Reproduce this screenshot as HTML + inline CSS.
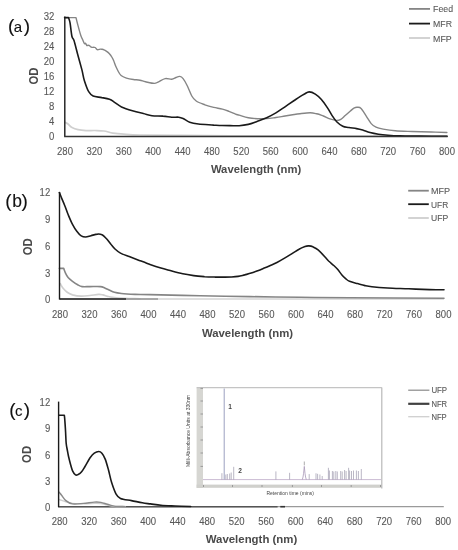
<!DOCTYPE html>
<html><head><meta charset="utf-8"><style>
html,body{margin:0;padding:0;background:#fff;}
body{width:458px;height:550px;overflow:hidden;}
svg{display:block;will-change:transform;filter:blur(0.3px);}
text{font-family:"Liberation Sans", sans-serif;}
.t{font-size:10px;fill:#585858;stroke:#585858;stroke-width:0.1px;}
.p{fill:#111;stroke:#111;stroke-width:0.1px;}
.od{font-size:12px;font-weight:bold;fill:#4a4a4a;}
.ax{font-size:11.8px;font-weight:bold;fill:#4a4a4a;}
.tiny{font-size:5px;fill:#444;}
.num{font-size:6.6px;font-weight:bold;fill:#444;}
</style></head><body>
<svg width="458" height="550" viewBox="0 0 458 550">
<rect width="458" height="550" fill="#fff"/>
<text class="p" y="31.8"><tspan x="7.9" style="font-size:19px">(</tspan><tspan x="13.7" style="font-size:15px">a</tspan><tspan x="23.8" style="font-size:19px">)</tspan></text>
<text transform="translate(37.5,76) rotate(-90)" text-anchor="middle" class="od" textLength="17" lengthAdjust="spacingAndGlyphs">OD</text>
<text x="54.3" y="19.8" text-anchor="end" class="t" textLength="10.6" lengthAdjust="spacingAndGlyphs">32</text>
<text x="54.3" y="34.6" text-anchor="end" class="t" textLength="10.6" lengthAdjust="spacingAndGlyphs">28</text>
<text x="54.3" y="49.6" text-anchor="end" class="t" textLength="10.6" lengthAdjust="spacingAndGlyphs">24</text>
<text x="54.3" y="64.5" text-anchor="end" class="t" textLength="10.6" lengthAdjust="spacingAndGlyphs">20</text>
<text x="54.3" y="80.0" text-anchor="end" class="t" textLength="10.6" lengthAdjust="spacingAndGlyphs">16</text>
<text x="54.3" y="95.0" text-anchor="end" class="t" textLength="10.6" lengthAdjust="spacingAndGlyphs">12</text>
<text x="54.3" y="110.0" text-anchor="end" class="t" textLength="5.3" lengthAdjust="spacingAndGlyphs">8</text>
<text x="54.3" y="125.2" text-anchor="end" class="t" textLength="5.3" lengthAdjust="spacingAndGlyphs">4</text>
<text x="54.3" y="140.2" text-anchor="end" class="t" textLength="5.3" lengthAdjust="spacingAndGlyphs">0</text>
<text x="65.0" y="154.7" text-anchor="middle" class="t" textLength="15.9" lengthAdjust="spacingAndGlyphs">280</text>
<text x="94.4" y="154.7" text-anchor="middle" class="t" textLength="15.9" lengthAdjust="spacingAndGlyphs">320</text>
<text x="123.8" y="154.7" text-anchor="middle" class="t" textLength="15.9" lengthAdjust="spacingAndGlyphs">360</text>
<text x="153.2" y="154.7" text-anchor="middle" class="t" textLength="15.9" lengthAdjust="spacingAndGlyphs">400</text>
<text x="182.6" y="154.7" text-anchor="middle" class="t" textLength="15.9" lengthAdjust="spacingAndGlyphs">440</text>
<text x="211.9" y="154.7" text-anchor="middle" class="t" textLength="15.9" lengthAdjust="spacingAndGlyphs">480</text>
<text x="241.3" y="154.7" text-anchor="middle" class="t" textLength="15.9" lengthAdjust="spacingAndGlyphs">520</text>
<text x="270.7" y="154.7" text-anchor="middle" class="t" textLength="15.9" lengthAdjust="spacingAndGlyphs">560</text>
<text x="300.1" y="154.7" text-anchor="middle" class="t" textLength="15.9" lengthAdjust="spacingAndGlyphs">600</text>
<text x="329.5" y="154.7" text-anchor="middle" class="t" textLength="15.9" lengthAdjust="spacingAndGlyphs">640</text>
<text x="358.9" y="154.7" text-anchor="middle" class="t" textLength="15.9" lengthAdjust="spacingAndGlyphs">680</text>
<text x="388.2" y="154.7" text-anchor="middle" class="t" textLength="15.9" lengthAdjust="spacingAndGlyphs">720</text>
<text x="417.6" y="154.7" text-anchor="middle" class="t" textLength="15.9" lengthAdjust="spacingAndGlyphs">760</text>
<text x="447.0" y="154.7" text-anchor="middle" class="t" textLength="15.9" lengthAdjust="spacingAndGlyphs">800</text>
<text x="256.1" y="172.9" text-anchor="middle" class="ax" textLength="90.4" lengthAdjust="spacingAndGlyphs">Wavelength (nm)</text>
<line x1="409" y1="8.9" x2="430" y2="8.9" stroke="#858585" stroke-width="1.8"/>
<text x="433.1" y="12.4" class="t" style="font-size:9.6px" textLength="19.9" lengthAdjust="spacingAndGlyphs">Feed</text>
<line x1="409" y1="23.6" x2="430" y2="23.6" stroke="#1a1a1a" stroke-width="1.8"/>
<text x="433.1" y="27.1" class="t" style="font-size:9.6px" textLength="18.9" lengthAdjust="spacingAndGlyphs">MFR</text>
<line x1="409" y1="38.0" x2="430" y2="38.0" stroke="#cfcfcf" stroke-width="1.8"/>
<text x="433.1" y="41.5" class="t" style="font-size:9.6px" textLength="18.6" lengthAdjust="spacingAndGlyphs">MFP</text>
<path d="M65.0,122.3C65.5,122.6 66.8,123.1 68.0,124.0C69.2,124.9 70.3,126.6 72.0,127.5C73.7,128.4 75.7,129.1 78.0,129.6C80.3,130.1 83.2,130.4 86.0,130.6C88.8,130.8 92.0,130.4 95.0,130.5C98.0,130.6 101.0,130.6 104.0,131.0C107.0,131.4 109.5,132.6 112.8,133.1C116.1,133.6 119.2,133.9 123.7,134.2C128.2,134.5 130.6,134.8 140.0,135.0C149.4,135.2 165.0,135.3 180.0,135.4C195.0,135.5 210.0,135.7 230.0,135.8C250.0,135.9 263.8,135.9 300.0,136.0C336.2,136.1 422.5,136.2 447.0,136.2" fill="none" stroke="#cfcfcf" stroke-width="1.7" stroke-linejoin="round" stroke-linecap="round"/>
<path d="M65.2,17.6 L76.0,17.6C76.3,18.9 77.2,22.6 78.0,25.6C78.8,28.6 80.1,33.5 80.9,35.8C81.7,38.1 82.1,38.4 82.6,39.5C83.1,40.6 83.6,41.9 83.9,42.6C84.2,43.3 84.4,43.8 84.7,43.9C85.0,44.0 85.2,43.1 85.6,43.4C86.0,43.7 86.5,45.3 86.9,45.6C87.3,45.9 87.8,45.2 88.2,45.2C88.6,45.2 89.1,45.3 89.5,45.6C89.9,45.9 90.3,46.6 90.8,46.9C91.2,47.2 91.8,47.3 92.2,47.4C92.7,47.5 93.0,47.2 93.5,47.2C94.0,47.2 94.7,47.2 95.2,47.5C95.7,47.8 96.1,48.7 96.5,49.1C96.9,49.5 97.1,49.8 97.8,49.8C98.5,49.8 99.8,49.2 100.5,49.1C101.2,49.0 101.6,49.2 102.2,49.3C102.8,49.4 103.3,49.5 104.0,49.8C104.7,50.1 105.7,50.7 106.6,51.3C107.5,51.9 108.3,52.5 109.2,53.5C110.1,54.5 111.1,55.8 111.8,57.0C112.5,58.2 112.9,58.9 113.6,60.5C114.3,62.1 115.2,65.0 116.0,66.8C116.8,68.6 117.5,70.0 118.3,71.5C119.1,73.0 119.8,74.4 121.1,75.5C122.4,76.6 124.4,77.4 126.4,78.1C128.5,78.8 131.1,79.2 133.4,79.5C135.7,79.8 138.0,79.8 140.0,80.2C142.0,80.6 143.1,81.3 145.5,81.8C147.9,82.3 152.0,83.4 154.2,83.4C156.4,83.4 156.8,82.6 158.6,81.8C160.4,81.0 163.0,79.0 165.2,78.6C167.4,78.2 169.9,79.4 171.7,79.2C173.5,79.0 174.7,78.0 176.0,77.5C177.3,77.0 178.6,76.2 179.8,76.4C181.0,76.6 181.8,77.0 183.1,78.6C184.4,80.2 186.1,83.3 187.5,86.2C188.9,89.1 190.4,93.5 191.8,96.0C193.2,98.5 194.0,99.5 196.2,101.0C198.4,102.5 202.0,103.7 204.9,104.8C207.8,105.9 210.8,106.7 213.7,107.4C216.6,108.1 219.8,108.4 222.4,109.1C225.0,109.8 226.8,110.5 229.0,111.3C231.2,112.1 233.8,113.4 235.5,114.1C237.2,114.8 237.1,114.6 239.2,115.2C241.3,115.8 245.2,117.2 248.3,117.8C251.4,118.4 254.4,118.6 257.5,118.7C260.6,118.8 263.6,118.8 266.7,118.6C269.8,118.4 272.8,117.9 275.9,117.5C278.9,117.1 281.9,116.5 285.0,116.0C288.1,115.5 291.7,114.9 294.2,114.5C296.7,114.1 297.3,114.0 300.0,113.7C302.7,113.4 307.4,112.8 310.2,112.8C313.0,112.8 314.6,113.3 316.8,113.8C319.0,114.3 321.1,115.2 323.3,116.0C325.5,116.8 327.7,118.2 329.9,118.9C332.1,119.6 334.6,120.3 336.4,120.4C338.2,120.5 339.3,120.1 340.8,119.3C342.3,118.5 343.6,116.9 345.2,115.5C346.8,114.1 348.9,112.3 350.4,111.0C351.9,109.7 353.2,108.4 354.4,107.8C355.6,107.2 356.4,107.2 357.5,107.3C358.6,107.4 359.6,107.0 361.1,108.5C362.6,110.0 364.7,113.9 366.4,116.4C368.1,118.9 369.6,121.8 371.2,123.6C372.8,125.4 374.0,126.3 376.0,127.2C378.0,128.1 380.0,128.5 383.2,129.1C386.4,129.7 390.4,130.4 395.2,130.8C400.0,131.2 406.0,131.3 412.0,131.5C418.0,131.7 425.5,131.8 431.3,132.0C437.1,132.2 444.3,132.4 446.9,132.5" fill="none" stroke="#858585" stroke-width="1.4" stroke-linejoin="round" stroke-linecap="round"/>
<path d="M64.6,17.6 L68.5,17.6C68.8,18.5 69.4,19.6 70.0,22.7C70.6,25.8 71.2,33.2 71.9,36.2C72.6,39.2 73.1,37.7 74.0,40.6C74.9,43.5 76.2,48.9 77.5,53.7C78.8,58.5 80.6,64.9 81.8,69.4C83.0,73.9 83.2,77.0 84.4,80.7C85.6,84.4 87.2,89.2 88.7,91.7C90.2,94.2 90.9,95.0 93.1,96.0C95.3,97.0 99.1,97.0 101.8,97.6C104.5,98.1 107.3,98.5 109.5,99.3C111.7,100.1 112.9,101.3 114.9,102.6C116.9,103.9 118.6,105.6 121.5,106.9C124.4,108.2 128.8,109.6 132.4,110.7C136.0,111.8 140.0,112.7 143.3,113.5C146.6,114.3 148.7,115.3 152.0,115.7C155.3,116.1 159.7,115.8 163.0,116.1C166.3,116.3 169.1,117.0 171.7,117.2C174.3,117.4 176.8,117.0 178.7,117.2C180.6,117.4 181.3,117.7 183.1,118.5C184.9,119.3 187.1,121.3 189.7,122.2C192.2,123.1 194.4,123.5 198.4,124.0C202.4,124.5 209.8,124.8 213.7,125.1C217.6,125.3 219.3,125.4 222.0,125.5C224.7,125.6 227.1,125.6 230.0,125.6C232.9,125.6 236.1,125.9 239.2,125.7C242.2,125.5 245.2,125.1 248.3,124.4C251.4,123.7 254.4,122.4 257.5,121.3C260.6,120.2 263.6,119.2 266.7,117.8C269.8,116.4 272.8,114.7 275.9,112.9C278.9,111.1 281.9,108.9 285.0,106.8C288.1,104.7 291.7,102.2 294.2,100.5C296.7,98.8 298.3,97.7 300.0,96.6C301.7,95.5 303.0,94.8 304.5,94.0C306.0,93.2 307.4,91.9 309.2,91.9C311.0,91.9 313.3,92.9 315.3,94.2C317.3,95.5 319.4,97.2 321.4,99.5C323.4,101.8 325.7,105.2 327.5,107.9C329.3,110.6 330.6,113.3 332.1,115.6C333.6,117.9 334.9,119.9 336.7,121.7C338.5,123.5 340.8,125.3 342.8,126.3C344.8,127.3 346.6,127.1 348.9,127.5C351.2,127.9 354.2,128.2 356.5,128.6C358.8,129.0 360.4,129.4 362.7,130.1C364.9,130.8 367.4,131.9 370.0,132.6C372.6,133.3 375.4,133.8 378.4,134.2C381.4,134.6 384.4,134.9 388.0,135.2C391.6,135.5 394.7,135.7 400.0,135.8C405.3,136.0 412.2,136.0 420.0,136.1C427.8,136.2 442.5,136.2 447.0,136.2" fill="none" stroke="#1a1a1a" stroke-width="1.6" stroke-linejoin="round" stroke-linecap="round"/>
<line x1="64.8" y1="16.6" x2="64.8" y2="136.4" stroke="#1a1a1a" stroke-width="1.4"/>
<line x1="64.1" y1="136.4" x2="447.6" y2="136.4" stroke="#333" stroke-width="1.5"/>
<text class="p" y="206.8"><tspan x="5.3" style="font-size:19px">(</tspan><tspan x="12.3" style="font-size:17.5px">b</tspan><tspan x="21.6" style="font-size:19px">)</tspan></text>
<text transform="translate(31.9,246.8) rotate(-90)" text-anchor="middle" class="od" textLength="17" lengthAdjust="spacingAndGlyphs">OD</text>
<text x="50.2" y="196.2" text-anchor="end" class="t" textLength="10.6" lengthAdjust="spacingAndGlyphs">12</text>
<text x="50.2" y="223.3" text-anchor="end" class="t" textLength="5.3" lengthAdjust="spacingAndGlyphs">9</text>
<text x="50.2" y="249.9" text-anchor="end" class="t" textLength="5.3" lengthAdjust="spacingAndGlyphs">6</text>
<text x="50.2" y="276.6" text-anchor="end" class="t" textLength="5.3" lengthAdjust="spacingAndGlyphs">3</text>
<text x="50.2" y="303.1" text-anchor="end" class="t" textLength="5.3" lengthAdjust="spacingAndGlyphs">0</text>
<text x="60.0" y="317.6" text-anchor="middle" class="t" textLength="15.9" lengthAdjust="spacingAndGlyphs">280</text>
<text x="89.5" y="317.6" text-anchor="middle" class="t" textLength="15.9" lengthAdjust="spacingAndGlyphs">320</text>
<text x="119.0" y="317.6" text-anchor="middle" class="t" textLength="15.9" lengthAdjust="spacingAndGlyphs">360</text>
<text x="148.5" y="317.6" text-anchor="middle" class="t" textLength="15.9" lengthAdjust="spacingAndGlyphs">400</text>
<text x="178.0" y="317.6" text-anchor="middle" class="t" textLength="15.9" lengthAdjust="spacingAndGlyphs">440</text>
<text x="207.5" y="317.6" text-anchor="middle" class="t" textLength="15.9" lengthAdjust="spacingAndGlyphs">480</text>
<text x="237.0" y="317.6" text-anchor="middle" class="t" textLength="15.9" lengthAdjust="spacingAndGlyphs">520</text>
<text x="266.5" y="317.6" text-anchor="middle" class="t" textLength="15.9" lengthAdjust="spacingAndGlyphs">560</text>
<text x="296.0" y="317.6" text-anchor="middle" class="t" textLength="15.9" lengthAdjust="spacingAndGlyphs">600</text>
<text x="325.5" y="317.6" text-anchor="middle" class="t" textLength="15.9" lengthAdjust="spacingAndGlyphs">640</text>
<text x="355.0" y="317.6" text-anchor="middle" class="t" textLength="15.9" lengthAdjust="spacingAndGlyphs">680</text>
<text x="384.5" y="317.6" text-anchor="middle" class="t" textLength="15.9" lengthAdjust="spacingAndGlyphs">720</text>
<text x="414.0" y="317.6" text-anchor="middle" class="t" textLength="15.9" lengthAdjust="spacingAndGlyphs">760</text>
<text x="443.5" y="317.6" text-anchor="middle" class="t" textLength="15.9" lengthAdjust="spacingAndGlyphs">800</text>
<text x="247.5" y="336.5" text-anchor="middle" class="ax" textLength="91.1" lengthAdjust="spacingAndGlyphs">Wavelength (nm)</text>
<line x1="408.2" y1="190.7" x2="428.8" y2="190.7" stroke="#858585" stroke-width="1.8"/>
<text x="431" y="194.1" class="t" style="font-size:9.4px" textLength="19.1" lengthAdjust="spacingAndGlyphs">MFP</text>
<line x1="408.2" y1="204.2" x2="428.8" y2="204.2" stroke="#1a1a1a" stroke-width="1.8"/>
<text x="431" y="207.6" class="t" style="font-size:9.4px" textLength="17.2" lengthAdjust="spacingAndGlyphs">UFR</text>
<line x1="408.2" y1="218.0" x2="428.8" y2="218.0" stroke="#cfcfcf" stroke-width="1.8"/>
<text x="431" y="221.4" class="t" style="font-size:9.4px" textLength="17.2" lengthAdjust="spacingAndGlyphs">UFP</text>
<line x1="59.5" y1="299" x2="444" y2="299" stroke="#d4d4d4" stroke-width="1.5"/>
<path d="M60.2,283.6C60.7,284.3 61.7,286.6 62.9,288.0C64.1,289.4 65.6,291.2 67.2,292.3C68.8,293.4 70.2,294.2 72.5,294.9C74.8,295.5 78.3,296.1 81.2,296.2C84.1,296.3 87.0,295.8 89.9,295.5C92.8,295.2 96.5,294.5 98.7,294.4C100.9,294.3 101.5,294.6 103.0,294.9C104.5,295.2 105.5,295.9 107.4,296.3C109.3,296.8 111.5,297.2 114.4,297.6C117.3,298.0 120.6,298.2 124.9,298.4C129.2,298.6 137.5,298.7 140.0,298.8" fill="none" stroke="#cfcfcf" stroke-width="1.7" stroke-linejoin="round" stroke-linecap="round"/>
<path d="M59.4,268.4 L63.7,268.4C64.0,269.2 64.8,271.6 65.5,273.1C66.2,274.6 66.9,276.1 68.1,277.5C69.3,278.9 70.9,280.1 72.5,281.3C74.1,282.5 76.1,283.9 77.7,284.8C79.3,285.7 80.1,286.3 82.1,286.6C84.1,286.9 86.9,286.6 89.9,286.6C93.0,286.6 97.9,286.4 100.4,286.6C102.9,286.8 103.3,287.4 104.8,288.0C106.2,288.6 107.5,289.3 109.1,290.0C110.7,290.7 112.4,291.7 114.4,292.3C116.5,292.9 118.0,293.1 121.4,293.5C124.8,293.9 130.2,294.2 135.0,294.4C139.8,294.6 139.2,294.4 150.0,294.6C160.8,294.8 183.3,295.5 200.0,295.8C216.7,296.1 233.3,296.4 250.0,296.6C266.7,296.9 283.3,297.1 300.0,297.3C316.7,297.5 326.0,297.7 350.0,297.8C374.0,297.9 428.3,298.1 444.0,298.2" fill="none" stroke="#858585" stroke-width="1.6" stroke-linejoin="round" stroke-linecap="round"/>
<path d="M59.4,192.6C59.8,193.5 60.7,195.9 61.6,198.1C62.5,200.3 63.7,203.0 64.8,205.7C65.9,208.4 66.8,211.4 68.1,214.5C69.4,217.6 71.0,221.5 72.5,224.3C74.0,227.1 75.3,229.4 76.8,231.3C78.2,233.2 79.7,235.0 81.2,235.9C82.7,236.8 84.0,237.0 85.6,237.0C87.2,237.0 89.0,236.2 91.0,235.7C93.0,235.2 95.8,234.2 97.6,234.1C99.4,233.9 100.5,234.1 102.0,234.8C103.5,235.5 104.8,237.0 106.3,238.5C107.8,240.0 109.2,242.2 110.7,244.0C112.2,245.8 113.4,247.5 115.0,249.0C116.6,250.5 118.1,251.8 120.5,253.1C122.9,254.4 126.3,255.5 129.2,256.6C132.1,257.7 135.1,258.8 138.0,259.9C140.9,261.0 144.7,262.4 146.7,263.2C148.7,264.0 147.6,263.7 150.0,264.5C152.4,265.3 157.3,266.9 160.9,268.0C164.5,269.1 168.2,270.0 171.8,271.0C175.5,272.0 179.2,273.0 182.8,273.8C186.5,274.6 190.1,275.1 193.7,275.6C197.3,276.1 201.0,276.4 204.6,276.7C208.2,276.9 212.1,277.0 215.5,277.1C218.9,277.2 222.3,277.1 225.0,277.1C227.7,277.1 229.4,277.1 231.6,277.0C233.8,276.9 235.9,276.8 238.1,276.4C240.3,276.0 242.5,275.4 244.7,274.9C246.9,274.3 249.0,273.8 251.2,273.1C253.4,272.4 255.6,271.5 257.8,270.7C260.0,269.9 262.1,269.0 264.3,268.1C266.5,267.2 268.7,266.2 270.9,265.2C273.1,264.2 275.0,263.4 277.4,262.2C279.8,261.0 282.5,259.4 285.0,257.9C287.5,256.4 290.1,254.8 292.4,253.4C294.7,252.0 296.9,250.3 299.0,249.2C301.1,248.0 303.4,247.1 305.0,246.5C306.6,245.9 307.6,245.8 308.9,245.9C310.2,246.0 311.4,246.2 312.9,246.8C314.4,247.5 316.4,248.4 318.1,249.8C319.8,251.2 321.6,253.2 323.3,255.1C325.1,257.0 326.9,259.3 328.6,261.0C330.4,262.7 332.3,264.1 333.8,265.5C335.3,266.9 336.5,268.0 337.8,269.5C339.1,271.0 340.4,273.2 341.7,274.7C343.0,276.2 344.3,277.5 345.6,278.6C346.9,279.7 347.5,280.5 349.5,281.3C351.5,282.1 354.8,282.9 357.4,283.6C360.0,284.3 362.6,285.1 365.0,285.6C367.4,286.1 368.1,286.3 371.9,286.7C375.7,287.1 381.5,287.6 387.6,288.0C393.7,288.4 401.6,288.5 408.6,288.8C415.6,289.1 423.7,289.4 429.6,289.6C435.5,289.8 441.6,289.8 444.0,289.8" fill="none" stroke="#1a1a1a" stroke-width="1.6" stroke-linejoin="round" stroke-linecap="round"/>
<line x1="59.5" y1="299" x2="126" y2="299" stroke="#1a1a1a" stroke-width="1.3"/>
<line x1="126" y1="299" x2="158" y2="299" stroke="#8a8a8a" stroke-width="1.3"/>
<line x1="59.5" y1="192" x2="59.5" y2="299.5" stroke="#1a1a1a" stroke-width="1.4"/>
<text class="p" y="416.2"><tspan x="9.2" style="font-size:19px">(</tspan><tspan x="15.0" style="font-size:15px">c</tspan><tspan x="23.8" style="font-size:19px">)</tspan></text>
<text transform="translate(31.4,454.4) rotate(-90)" text-anchor="middle" class="od" textLength="17" lengthAdjust="spacingAndGlyphs">OD</text>
<text x="50.2" y="406.1" text-anchor="end" class="t" textLength="10.6" lengthAdjust="spacingAndGlyphs">12</text>
<text x="50.2" y="432.4" text-anchor="end" class="t" textLength="5.3" lengthAdjust="spacingAndGlyphs">9</text>
<text x="50.2" y="458.6" text-anchor="end" class="t" textLength="5.3" lengthAdjust="spacingAndGlyphs">6</text>
<text x="50.2" y="484.8" text-anchor="end" class="t" textLength="5.3" lengthAdjust="spacingAndGlyphs">3</text>
<text x="50.2" y="510.8" text-anchor="end" class="t" textLength="5.3" lengthAdjust="spacingAndGlyphs">0</text>
<text x="59.6" y="524.9" text-anchor="middle" class="t" textLength="15.9" lengthAdjust="spacingAndGlyphs">280</text>
<text x="89.1" y="524.9" text-anchor="middle" class="t" textLength="15.9" lengthAdjust="spacingAndGlyphs">320</text>
<text x="118.6" y="524.9" text-anchor="middle" class="t" textLength="15.9" lengthAdjust="spacingAndGlyphs">360</text>
<text x="148.1" y="524.9" text-anchor="middle" class="t" textLength="15.9" lengthAdjust="spacingAndGlyphs">400</text>
<text x="177.6" y="524.9" text-anchor="middle" class="t" textLength="15.9" lengthAdjust="spacingAndGlyphs">440</text>
<text x="207.1" y="524.9" text-anchor="middle" class="t" textLength="15.9" lengthAdjust="spacingAndGlyphs">480</text>
<text x="236.6" y="524.9" text-anchor="middle" class="t" textLength="15.9" lengthAdjust="spacingAndGlyphs">520</text>
<text x="266.1" y="524.9" text-anchor="middle" class="t" textLength="15.9" lengthAdjust="spacingAndGlyphs">560</text>
<text x="295.6" y="524.9" text-anchor="middle" class="t" textLength="15.9" lengthAdjust="spacingAndGlyphs">600</text>
<text x="325.1" y="524.9" text-anchor="middle" class="t" textLength="15.9" lengthAdjust="spacingAndGlyphs">640</text>
<text x="354.6" y="524.9" text-anchor="middle" class="t" textLength="15.9" lengthAdjust="spacingAndGlyphs">680</text>
<text x="384.1" y="524.9" text-anchor="middle" class="t" textLength="15.9" lengthAdjust="spacingAndGlyphs">720</text>
<text x="413.6" y="524.9" text-anchor="middle" class="t" textLength="15.9" lengthAdjust="spacingAndGlyphs">760</text>
<text x="443.1" y="524.9" text-anchor="middle" class="t" textLength="15.9" lengthAdjust="spacingAndGlyphs">800</text>
<text x="251.5" y="543.3" text-anchor="middle" class="ax" textLength="91.6" lengthAdjust="spacingAndGlyphs">Wavelength (nm)</text>
<line x1="408.2" y1="390.2" x2="429.4" y2="390.2" stroke="#8a8a8a" stroke-width="1.2"/>
<text x="431.4" y="393.2" class="t" style="font-size:8.4px" textLength="15.7" lengthAdjust="spacingAndGlyphs">UFP</text>
<line x1="408.2" y1="403.8" x2="429.4" y2="403.8" stroke="#404040" stroke-width="2.2"/>
<text x="431.4" y="406.8" class="t" style="font-size:8.4px" textLength="15.7" lengthAdjust="spacingAndGlyphs">NFR</text>
<line x1="408.2" y1="416.7" x2="429.4" y2="416.7" stroke="#cfcfcf" stroke-width="1.3"/>
<text x="431.4" y="419.7" class="t" style="font-size:8.4px" textLength="15.3" lengthAdjust="spacingAndGlyphs">NFP</text>
<line x1="58.6" y1="506.7" x2="443.8" y2="506.7" stroke="#9a9a9a" stroke-width="1.3"/>
<line x1="58.6" y1="506.7" x2="277.6" y2="506.7" stroke="#555" stroke-width="1.4"/>
<line x1="280.3" y1="506.7" x2="285" y2="506.7" stroke="#333" stroke-width="1.6"/>
<path d="M58.9,499.5C60.1,499.9 63.6,501.0 65.9,501.7C68.2,502.4 69.6,503.1 72.5,503.5C75.4,503.9 79.8,503.8 83.4,503.8C87.0,503.8 91.4,503.4 94.3,503.3C97.2,503.2 98.7,503.2 100.9,503.5C103.1,503.8 105.2,504.6 107.4,505.0C109.6,505.4 111.1,505.9 114.0,506.2C116.9,506.5 123.2,506.5 125.0,506.6" fill="none" stroke="#cfcfcf" stroke-width="1.5" stroke-linejoin="round" stroke-linecap="round"/>
<path d="M58.9,491.9C59.4,492.4 60.4,493.8 61.6,495.2C62.8,496.6 64.1,499.2 65.9,500.6C67.7,502.1 69.6,503.4 72.5,503.9C75.4,504.4 79.8,503.7 83.4,503.4C87.0,503.1 91.4,502.3 94.3,502.1C97.2,501.9 98.7,502.0 100.9,502.4C103.1,502.8 105.2,503.7 107.4,504.3C109.6,504.9 111.1,505.7 114.0,506.1C116.9,506.5 123.2,506.5 125.0,506.6" fill="none" stroke="#8a8a8a" stroke-width="1.4" stroke-linejoin="round" stroke-linecap="round"/>
<path d="M58.9,415.2 L64.3,415.2C64.4,416.0 64.6,417.1 64.8,420.0C65.0,422.9 65.4,428.4 65.6,432.3C65.8,436.2 65.9,440.6 66.2,443.5C66.5,446.4 66.9,447.8 67.3,450.0C67.7,452.2 68.0,454.3 68.6,456.8C69.2,459.3 70.0,462.6 70.7,465.0C71.4,467.4 71.9,469.5 72.7,471.1C73.5,472.8 74.6,474.3 75.5,474.9C76.4,475.5 77.2,475.0 78.2,474.5C79.2,474.0 80.5,473.1 81.6,471.8C82.7,470.5 83.6,468.8 85.0,466.5C86.4,464.2 88.4,460.2 89.9,458.0C91.5,455.8 92.8,454.3 94.3,453.2C95.8,452.1 97.4,451.5 98.7,451.5C100.0,451.5 100.8,451.9 101.9,453.2C103.0,454.5 104.1,456.3 105.2,459.1C106.3,461.9 107.4,466.0 108.5,470.0C109.6,474.0 110.5,479.1 111.8,483.1C113.1,487.1 114.6,491.6 116.1,494.1C117.5,496.7 118.0,497.3 120.5,498.4C123.0,499.5 127.8,499.9 131.4,500.6C135.0,501.3 139.1,502.2 142.3,502.8C145.5,503.4 147.4,503.5 150.5,503.9C153.6,504.3 156.9,504.9 161.0,505.3C165.1,505.7 170.1,505.8 175.0,506.0C179.9,506.2 188.1,506.4 190.7,506.5" fill="none" stroke="#1a1a1a" stroke-width="1.6" stroke-linejoin="round" stroke-linecap="round"/>
<line x1="58.6" y1="401.6" x2="58.6" y2="507.3" stroke="#1a1a1a" stroke-width="1.4"/>
<rect x="196.6" y="387.6" width="6.4" height="100.4" fill="#d6d6d2"/>
<rect x="196.6" y="484.6" width="185.2" height="3.2" fill="#d0d0cc"/>
<line x1="196.6" y1="387.6" x2="381.8" y2="387.6" stroke="#c4c4c4" stroke-width="1.2"/>
<line x1="381.8" y1="387.6" x2="381.8" y2="488.6" stroke="#b8b8b8" stroke-width="1.2"/>
<line x1="200.5" y1="388.4" x2="203" y2="388.4" stroke="#8a8a8a" stroke-width="0.8"/>
<line x1="200.5" y1="401" x2="203" y2="401" stroke="#8a8a8a" stroke-width="0.8"/>
<line x1="200.5" y1="414" x2="203" y2="414" stroke="#8a8a8a" stroke-width="0.8"/>
<line x1="200.5" y1="427" x2="203" y2="427" stroke="#8a8a8a" stroke-width="0.8"/>
<line x1="200.5" y1="440" x2="203" y2="440" stroke="#8a8a8a" stroke-width="0.8"/>
<line x1="200.5" y1="453" x2="203" y2="453" stroke="#8a8a8a" stroke-width="0.8"/>
<line x1="200.5" y1="466.4" x2="203" y2="466.4" stroke="#8a8a8a" stroke-width="0.8"/>
<line x1="203.5" y1="485" x2="203.5" y2="487" stroke="#8a8a8a" stroke-width="0.8"/>
<line x1="232.5" y1="485" x2="232.5" y2="487" stroke="#8a8a8a" stroke-width="0.8"/>
<line x1="262" y1="485" x2="262" y2="487" stroke="#8a8a8a" stroke-width="0.8"/>
<line x1="292.4" y1="485" x2="292.4" y2="487" stroke="#8a8a8a" stroke-width="0.8"/>
<line x1="321.5" y1="485" x2="321.5" y2="487" stroke="#8a8a8a" stroke-width="0.8"/>
<line x1="351.2" y1="485" x2="351.2" y2="487" stroke="#8a8a8a" stroke-width="0.8"/>
<line x1="380.5" y1="485" x2="380.5" y2="487" stroke="#8a8a8a" stroke-width="0.8"/>
<text transform="translate(189.5,431) rotate(-90)" text-anchor="middle" class="tiny">Milli-Absorbance Units  at 330nm</text>
<text x="266.5" y="494.9" class="tiny" style="font-size:5.4px" textLength="47.3" lengthAdjust="spacingAndGlyphs">Retention time (mins)</text>
<line x1="203" y1="479.6" x2="381" y2="479.6" stroke="#bba8c6" stroke-width="0.8"/>
<line x1="224.2" y1="388.5" x2="224.2" y2="479.6" stroke="#9ca0c0" stroke-width="1.0"/>
<line x1="221.9" y1="473.2" x2="221.9" y2="479.6" stroke="#9c98ac" stroke-width="0.7"/>
<line x1="225.8" y1="474.5" x2="225.8" y2="479.6" stroke="#9c98ac" stroke-width="0.7"/>
<line x1="227.3" y1="474.0" x2="227.3" y2="479.6" stroke="#9c98ac" stroke-width="0.7"/>
<line x1="229.7" y1="473.5" x2="229.7" y2="479.6" stroke="#9c98ac" stroke-width="0.7"/>
<line x1="231.2" y1="472.5" x2="231.2" y2="479.6" stroke="#9c98ac" stroke-width="0.7"/>
<line x1="233.7" y1="466.8" x2="233.7" y2="479.6" stroke="#9c98ac" stroke-width="0.7"/>
<line x1="275.9" y1="471.4" x2="275.9" y2="479.6" stroke="#9c98ac" stroke-width="0.7"/>
<line x1="289.6" y1="472.8" x2="289.6" y2="479.6" stroke="#9c98ac" stroke-width="0.7"/>
<line x1="309.2" y1="474.1" x2="309.2" y2="479.6" stroke="#9c98ac" stroke-width="0.7"/>
<line x1="316.0" y1="473.3" x2="316.0" y2="479.6" stroke="#9c98ac" stroke-width="0.7"/>
<line x1="317.6" y1="473.8" x2="317.6" y2="479.6" stroke="#9c98ac" stroke-width="0.7"/>
<line x1="319.9" y1="474.5" x2="319.9" y2="479.6" stroke="#9c98ac" stroke-width="0.7"/>
<line x1="322.2" y1="476.0" x2="322.2" y2="479.6" stroke="#9c98ac" stroke-width="0.7"/>
<line x1="328.4" y1="467.8" x2="328.4" y2="479.6" stroke="#9c98ac" stroke-width="0.7"/>
<line x1="329.4" y1="470.5" x2="329.4" y2="479.6" stroke="#9c98ac" stroke-width="0.7"/>
<line x1="332.4" y1="471.0" x2="332.4" y2="479.6" stroke="#9c98ac" stroke-width="0.7"/>
<line x1="333.8" y1="471.5" x2="333.8" y2="479.6" stroke="#9c98ac" stroke-width="0.7"/>
<line x1="335.8" y1="471.0" x2="335.8" y2="479.6" stroke="#9c98ac" stroke-width="0.7"/>
<line x1="337.3" y1="471.5" x2="337.3" y2="479.6" stroke="#9c98ac" stroke-width="0.7"/>
<line x1="340.7" y1="471.0" x2="340.7" y2="479.6" stroke="#9c98ac" stroke-width="0.7"/>
<line x1="342.2" y1="471.5" x2="342.2" y2="479.6" stroke="#9c98ac" stroke-width="0.7"/>
<line x1="344.6" y1="470.0" x2="344.6" y2="479.6" stroke="#9c98ac" stroke-width="0.7"/>
<line x1="346.1" y1="471.0" x2="346.1" y2="479.6" stroke="#9c98ac" stroke-width="0.7"/>
<line x1="348.6" y1="467.8" x2="348.6" y2="479.6" stroke="#9c98ac" stroke-width="0.7"/>
<line x1="349.6" y1="470.5" x2="349.6" y2="479.6" stroke="#9c98ac" stroke-width="0.7"/>
<line x1="351.5" y1="471.0" x2="351.5" y2="479.6" stroke="#9c98ac" stroke-width="0.7"/>
<line x1="353.5" y1="470.5" x2="353.5" y2="479.6" stroke="#9c98ac" stroke-width="0.7"/>
<line x1="356.4" y1="470.5" x2="356.4" y2="479.6" stroke="#9c98ac" stroke-width="0.7"/>
<line x1="358.4" y1="471.0" x2="358.4" y2="479.6" stroke="#9c98ac" stroke-width="0.7"/>
<line x1="361.3" y1="469.0" x2="361.3" y2="479.6" stroke="#9c98ac" stroke-width="0.7"/>
<path d="M302.3,479.6 C303.4,477 303.8,471 304.3,466.4 C304.8,471 305.2,477 306.3,479.6" fill="none" stroke="#a898b8" stroke-width="0.8"/>
<line x1="304.3" y1="465.4" x2="304.3" y2="461.5" stroke="#888" stroke-width="0.7"/>
<text x="228.2" y="408.7" class="num">1</text>
<text x="238.3" y="472.8" class="num">2</text>
</svg>
</body></html>
